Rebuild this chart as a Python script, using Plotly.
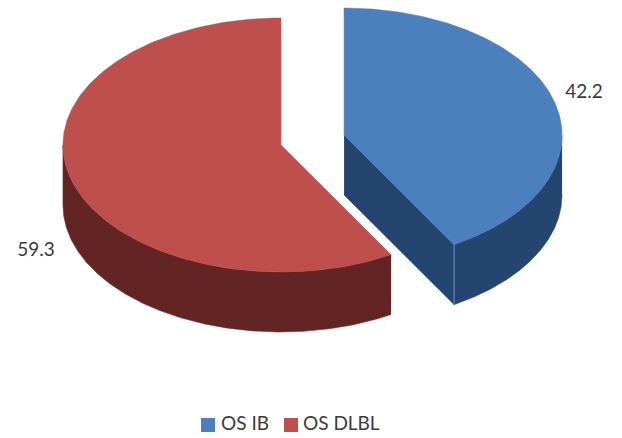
import numpy as np
import plotly.graph_objects as go

categories = ["OS IB", "OS DLBL"]
values = [42.2, 59.3]
top_colors = ["#4C7FBD", "#BE4F4C"]
side_colors = ["#254571", "#632523"]

W, H = 622, 438
CX, CY = 312.5, 140    # pie centre
RX, RY = 218, 127      # ellipse radii
DEPTH = 60
EXPLODE = 0.15

total = sum(values)
sweeps = [v / total * 2 * np.pi for v in values]
starts = [0, sweeps[0]]


def rim(cx, cy, a0, a1, n=240, dy=0):
    t = np.linspace(a0, a1, n)
    return cx + RX * np.sin(t), cy - RY * np.cos(t) + dy


centres = []
for s, sw in zip(starts, sweeps):
    mid = s + sw / 2
    centres.append((CX + RX * EXPLODE * np.sin(mid), CY - RY * EXPLODE * np.cos(mid)))

fig = go.Figure()


def poly(x, y, color):
    fig.add_trace(go.Scatter(x=list(x), y=list(y), mode="lines", fill="toself", fillcolor=color,
                             line=dict(color=color, width=0.5), showlegend=False, hoverinfo="skip"))


# red slice: side wall then top
cx, cy = centres[1]
a0, a1 = starts[1], starts[1] + sweeps[1]
xr, yr = rim(cx, cy, a0, min(a1, 1.5 * np.pi))
poly(np.r_[xr, xr[::-1]], np.r_[yr, yr[::-1] + DEPTH], side_colors[1])
xt, yt = rim(cx, cy, a0, a1)
poly(np.r_[cx, xt, cx], np.r_[cy, yt, cy], top_colors[1])

# blue slice: cut wall, outer wall, top
cx, cy = centres[0]
a0, a1 = starts[0], starts[0] + sweeps[0]
ex, ey = rim(cx, cy, a1, a1, 1)
poly([cx, ex[0], ex[0], cx], [cy, ey[0], ey[0] + DEPTH, cy + DEPTH], side_colors[0])
xr, yr = rim(cx, cy, max(a0, 0.5 * np.pi), a1)
poly(np.r_[xr, xr[::-1]], np.r_[yr, yr[::-1] + DEPTH], side_colors[0])
fig.add_trace(go.Scatter(x=[ex[0], ex[0]], y=[ey[0], ey[0] + DEPTH], mode="lines",
                         line=dict(color="#5478A8", width=1.5), showlegend=False, hoverinfo="skip"))
xt, yt = rim(cx, cy, a0, a1)
poly(np.r_[cx, xt, cx], np.r_[cy, yt, cy], top_colors[0])

# data labels
fig.add_trace(go.Scatter(x=[584, 36], y=[93, 251], mode="text", text=[str(v) for v in values],
                         textfont=dict(family="Lato", size=19, color="#3A3A3A"),
                         showlegend=False, hoverinfo="skip"))

# legend row
fig.add_trace(go.Scatter(x=[208, 291], y=[425, 425], mode="markers",
                         marker=dict(symbol="square", size=14, color=top_colors, line=dict(width=0)),
                         showlegend=False, hoverinfo="skip"))
fig.add_trace(go.Scatter(x=[221, 303], y=[425, 425], mode="text", text=categories,
                         textposition="middle right",
                         textfont=dict(family="Lato", size=19, color="#3A3A3A"),
                         showlegend=False, hoverinfo="skip"))

fig.update_layout(
    width=W, height=H, autosize=False, margin=dict(l=0, r=0, t=0, b=0),
    paper_bgcolor="white", plot_bgcolor="white", showlegend=False,
    xaxis=dict(range=[0, W], visible=False, fixedrange=True),
    yaxis=dict(range=[H, 0], visible=False, fixedrange=True),
)
fig.write_html("out.html", config=dict(displayModeBar=False),
               post_script="document.body.style.margin='0';document.body.style.overflow='hidden';")
